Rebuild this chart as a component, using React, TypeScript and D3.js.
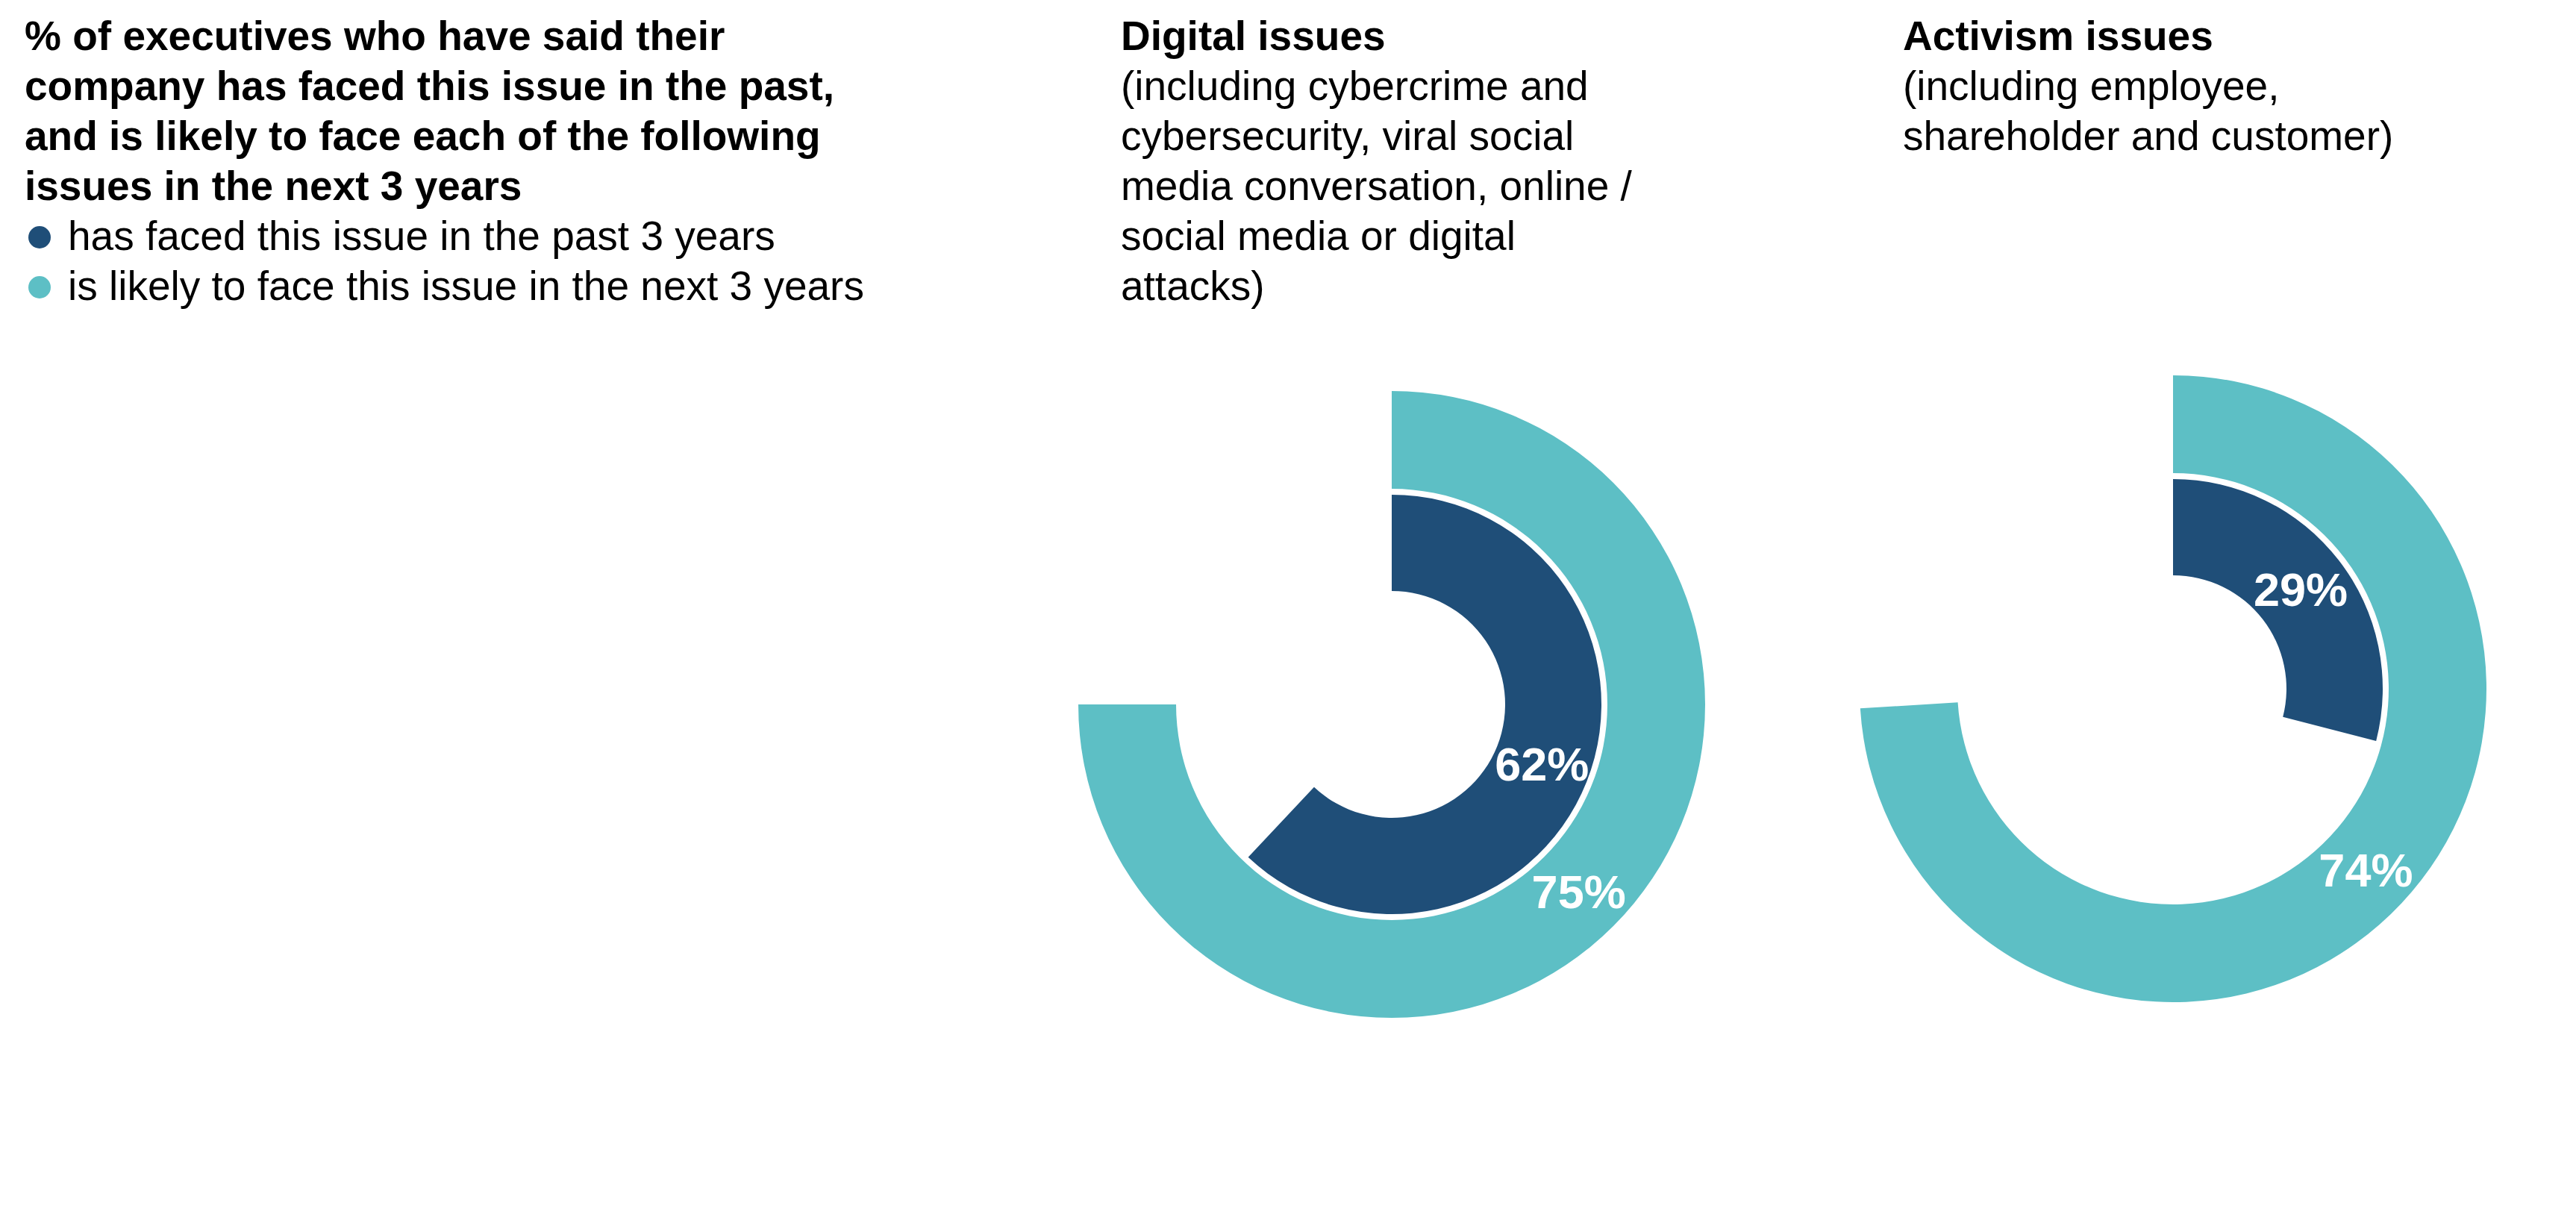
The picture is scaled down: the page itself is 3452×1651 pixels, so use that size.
import React from "react";
import * as d3 from "d3";

// ── Data ──
const titleLines = [
  "% of executives who have said their",
  "company has faced this issue in the past,",
  "and is likely to face each of the following",
  "issues in the next 3 years",
];
const seriesLabels = [
  "has faced this issue in the past 3 years",
  "is likely to face this issue in the next 3 years",
];
const seriesColors = ["#1F4E78", "#5DBFC5"];
const issueTitles = ["Digital issues", "Activism issues"];
const issueSubtitles = [
  [
    "(including cybercrime and",
    "cybersecurity, viral social",
    "media conversation, online /",
    "social media or digital",
    "attacks)",
  ],
  ["(including employee,", "shareholder and customer)"],
];
const pastValues = [62, 29];
const nextValues = [75, 74];

// ── Layout ──
const W = 3452;
const H = 1651;
const FONT = "'Liberation Sans', Arial, Helvetica, sans-serif";
const FS = 55;
const LH = 67;
const BASE0 = 67;
const panelX = [1502, 2550];
const donutCenters = [
  { x: 1865, y: 944 },
  { x: 2912, y: 923 },
];
const innerRing = { inner: 152, outer: 281 };
const outerRing = { inner: 289, outer: 420 };

const angle = d3.scaleLinear().domain([0, 100]).range([0, 2 * Math.PI]);

export default function App() {
  const innerArc = d3
    .arc<number>()
    .innerRadius(innerRing.inner)
    .outerRadius(innerRing.outer)
    .startAngle(0)
    .endAngle((v) => angle(v));
  const outerArc = d3
    .arc<number>()
    .innerRadius(outerRing.inner)
    .outerRadius(outerRing.outer)
    .startAngle(0)
    .endAngle((v) => angle(v));

  return (
    <svg
      width={W}
      height={H}
      style={{ position: "absolute", left: 0, top: 0, background: "#fff" }}
      fontFamily={FONT}
    >
      {/* Title + legend */}
      <g>
        {titleLines.map((t, i) => (
          <text key={t} x={33} y={BASE0 + i * LH} fontSize={FS} fontWeight="bold" fill="#000">
            {t}
          </text>
        ))}
        {seriesLabels.map((t, i) => {
          const y = BASE0 + (titleLines.length + i) * LH;
          return (
            <g key={t}>
              <circle cx={53} cy={y - 17} r={15} fill={seriesColors[i]} />
              <text x={91} y={y} fontSize={FS} fill="#000">
                {t}
              </text>
            </g>
          );
        })}
      </g>

      {/* Panels */}
      {issueTitles.map((title, k) => {
        const c = donutCenters[k];
        const past = pastValues[k];
        const next = nextValues[k];
        const [ix, iy] = innerArc.centroid(past);
        const [ox, oy] = outerArc.centroid(next);
        return (
          <g key={title}>
            <text x={panelX[k]} y={BASE0} fontSize={FS} fontWeight="bold" fill="#000">
              {title}
            </text>
            {issueSubtitles[k].map((s, j) => (
              <text key={s} x={panelX[k]} y={BASE0 + (j + 1) * LH} fontSize={FS} fill="#000">
                {s}
              </text>
            ))}
            <g transform={`translate(${c.x},${c.y})`}>
              <path d={outerArc(next) ?? ""} fill={seriesColors[1]} />
              <path d={innerArc(past) ?? ""} fill={seriesColors[0]} />
              <text
                x={ix}
                y={iy}
                textAnchor="middle"
                dominantBaseline="central"
                fontSize={63}
                fontWeight="bold"
                fill="#fff"
              >
                {past}%
              </text>
              <text
                x={ox}
                y={oy}
                textAnchor="middle"
                dominantBaseline="central"
                fontSize={63}
                fontWeight="bold"
                fill="#fff"
              >
                {next}%
              </text>
            </g>
          </g>
        );
      })}
    </svg>
  );
}
